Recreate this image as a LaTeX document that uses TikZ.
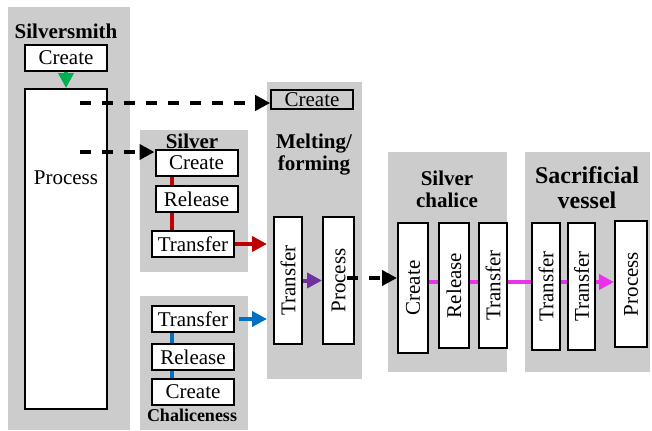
\documentclass[tikz,border=0pt]{standalone}
\usepackage{fontspec}
\setmainfont{Liberation Serif}
\usetikzlibrary{arrows.meta}
\definecolor{ssgreen}{RGB}{0,176,80}
\definecolor{slred}{RGB}{192,0,0}
\definecolor{chblue}{RGB}{0,112,192}
\definecolor{mfpurple}{RGB}{112,48,160}
\definecolor{svmagenta}{RGB}{235,50,235}
\tikzset{
  lane/.style={fill=gray!40},
  lbl/.style={font=\bfseries\fontsize{10.5}{11}\selectfont, align=center},
  hbox/.style={draw, line width=1pt, fill=white, inner sep=0pt, minimum width=41pt, minimum height=13pt, font=\fontsize{10.5}{12}\selectfont},
  vbox/.style={hbox, rotate=90, minimum width=63.5pt, minimum height=14pt},
  link/.style={line width=2pt},
  tip/.style={-{Triangle[length=7.5pt,width=7.5pt]}},
  dashlink/.style={line width=2pt, dash pattern=on 5.5pt off 5.5pt, tip}
}
\begin{document}
\begin{tikzpicture}[x=0.5pt,y=-0.5pt]
\useasboundingbox (0,0) rectangle (652,430);
% lanes
\fill[lane] (8,7) rectangle (130,430);
\fill[lane] (140,130) rectangle (248,272);
\fill[lane] (140,296) rectangle (248,430);
\fill[lane] (267,82) rectangle (362,379);
\fill[lane] (388,152) rectangle (507,372);
\fill[lane] (525,152) rectangle (650,372);
\coordinate (mfL) at (267,0);

% Silversmith
\node[lbl] (ssT) at (66,31) {Silversmith};
\node[hbox] (ssC) at (66,58) {Create};
\node[hbox, minimum height=160pt] (ssP) at (66,249) {};
\node[font=\fontsize{10.5}{12}\selectfont] (ssPt) at (66,178) {Process};

% Silver
\node[lbl] (slTi) at (192,141) {Silver};
\node[hbox] (slC) at (196.5,163) {Create};
\node[hbox] (slR) at (196.5,199) {Release};
\node[hbox] (slT) at (193,244) {Transfer};

% Chaliceness
\node[hbox] (chT) at (193,319) {Transfer};
\node[hbox] (chR) at (193,357) {Release};
\node[hbox] (chC) at (193,392) {Create};
\node[lbl, font=\bfseries\fontsize{9}{10}\selectfont] (chTi) at (192,415) {Chaliceness};

% Melting/forming
\node[hbox, fill=none, line width=0.8pt, minimum height=9.5pt] (mfC) at (312,99.5) {Create};
\node[lbl] (mfTi) at (314,155) {Melting/\\forming};
\node[vbox] (mfT) at (288,280.5) {Transfer};
\node[vbox, minimum height=15.5pt] (mfP) at (338.5,280.5) {Process};

% Silver chalice
\node[lbl] (scTi) at (447,189) {Silver\\chalice};
\node[vbox, minimum width=65pt, minimum height=15pt] (scC) at (413,288) {Create};
\node[vbox, minimum width=62.5pt, minimum height=15pt] (scR) at (454,285.5) {Release};
\node[vbox, minimum width=62.5pt] (scT) at (493,285.5) {Transfer};

% Sacrificial vessel
\node[lbl, font=\bfseries\fontsize{12}{12.5}\selectfont] (svTi) at (587,188) {Sacrificial\\vessel};
\node[vbox] (svT1) at (546,286.5) {Transfer};
\node[vbox, minimum height=13.5pt] (svT2) at (581.5,286.5) {Transfer};
\node[vbox, minimum height=16pt, minimum width=63pt] (svP) at (631,284) {Process};

% connectors
\coordinate (sx) at (172,0);
\coordinate (cx) at (172,0);
\coordinate (my) at (0,282);
\draw[link, ssgreen, tip] (ssC.south) -- (ssP.north);
\draw[link, slred] (slC.south -| sx) -- (slR.north -| sx);
\draw[link, slred] (slR.south -| sx) -- (slT.north -| sx);
\draw[link, slred, tip] (slT.east) -- (slT.east -| mfL);
\draw[link, chblue] (chT.south -| cx) -- (chR.north -| cx);
\draw[link, chblue] (chR.south -| cx) -- (chC.north -| cx);
\draw[link, chblue, tip] ([xshift=2pt]chT.east) -- (chT.east -| mfL);
\draw[link, mfpurple, tip] (mfT.south) -- (mfP.north);
\draw[link, svmagenta] (scC.south |- my) -- (scR.north |- my);
\draw[link, svmagenta] (scR.south |- my) -- (scT.north |- my);
\draw[link, svmagenta] (scT.south |- my) -- (svT1.north |- my);
\draw[link, svmagenta] (svT1.south |- my) -- (svT2.north |- my);
\draw[link, svmagenta, tip] (svT2.south |- my) -- (svP.north |- my);
\coordinate (d1) at (80,103);
\coordinate (d2) at (80,152);
\coordinate (d3) at (347,278);
\draw[dashlink] (d1) -- (d1 -| mfC.west);
\draw[dashlink] (d2) -- (d2 -| slC.west);
\draw[dashlink] (d3) -- (d3 -| scC.north);
\end{tikzpicture}
\end{document}
